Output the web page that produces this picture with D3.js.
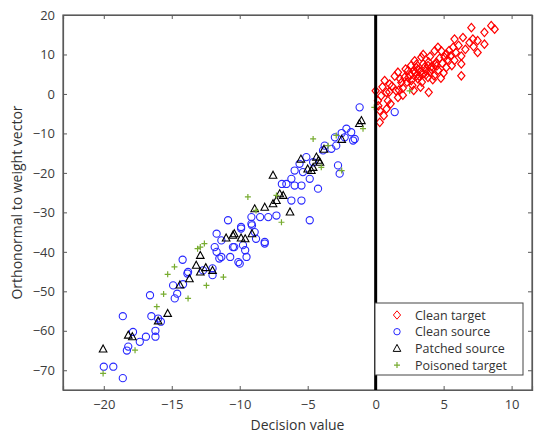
<!DOCTYPE html>
<html><head><meta charset="utf-8">
<script src="https://cdn.jsdelivr.net/npm/d3@7"></script>
<style>body{margin:0;background:#fff;} svg{display:block;font-family:"Open Sans",sans-serif;}</style>
</head><body>
<script>
const xTicks = [-20,-15,-10,-5,0,5,10];
const yTicks = [-70,-60,-50,-40,-30,-20,-10,0,10,20];
const xDomain = [-23, 11.5];
const yDomain = [-75, 20];
const seriesNames = ["Clean target","Clean source","Patched source","Poisoned target"];

const cleanTarget = [
 [0,0.8],[0.17,-1.7],[0.3,-4.2],[0.3,-7.2],[0.66,3.4],[0.79,0.4],[0.9,-1.7],[1.03,2.5],[1.64,5.5],[1.5,0.8],
 [1.64,-0.9],[2.13,4.2],[2.38,5.9],[2.87,8.4],[3.0,6.7],[3.36,9.3],[3.48,5.1],[3.85,7.2],[3.85,4.2],[3.9,0.4],
 [4.34,10.9],[4.46,8.0],[4.58,11.8],[5.07,9.3],[5.2,6.7],[3.11,3.8],[2.62,3.4],[1.89,2.9],
 [7.04,16.8],[6.42,14.3],[7.15,13.9],[7.5,13.5],[8.0,15.6],[8.5,17.3],[8.75,16.4],[8.0,12.6],[7.5,10.5],
 [5.8,13.9],[5.7,11.8],[6.3,7.6],[6.3,4.6],[5.2,10.1],[4.83,10.9],
 [1.2,2.0],[1.8,3.8],[2.0,1.5],[2.3,3.0],[2.5,4.8],[2.7,2.2],[2.9,5.5],[3.1,6.2],[3.2,4.5],[3.4,3.0],
 [3.6,6.8],[3.7,5.8],[3.9,8.1],[4.0,5.5],[4.1,6.9],[4.2,3.6],[4.4,7.5],[4.6,6.0],[4.7,9.0],[4.9,7.8],
 [5.0,5.3],[5.3,8.7],[5.4,11.0],[5.5,9.6],[5.9,10.5],[6.1,12.3],[6.6,11.3],[6.9,13.0],[7.2,12.0],[5.6,7.2],
 [2.2,6.3],[1.4,4.5],[0.5,1.8],[0.4,-0.5],[0.2,-3.0],[0.6,-5.5],[1.1,-2.5],[1.0,0.5],[2.0,-0.3],[2.8,0.9],
 [3.3,1.7],[3.0,7.5],[4.3,4.6],[4.8,4.0],[5.8,8.5],[6.3,9.6],[3.5,10.0],[2.6,7.2],[4.0,9.5],[1.7,1.0],[0.8,-3.8],
 [3.3,5.6],[3.7,4.9],[4.1,6.2],[3.0,4.6],[2.4,4.1],[4.5,7.1],[3.5,7.6],[2.8,6.0]
];
const cleanSource = [
 [-13.85,-45.5],[-14.9,-48.5],[-14.17,-48.2],[-14.6,-50.6],[-14.78,-51.8],[-16.6,-51],[-18.6,-56.3],[-16.5,-56.3],
 [-16.0,-56.9],[-15.8,-57.7],[-16.2,-60],[-16.2,-61.5],[-16.9,-61.5],[-17.35,-62.8],[-17.85,-60.3],[-18.3,-65],
 [-20,-69.1],[-19.3,-69.1],[-18.6,-72],
 [-10.86,-32.0],[-11.7,-35.4],[-11.35,-37.1],[-11.84,-38.8],[-11.7,-40.0],[-11.35,-41.3],[-10.7,-41.3],[-10.1,-42.6],
 [-9.5,-41.3],[-10.5,-38.8],[-9.76,-38.3],[-9.14,-32.9],[-8.9,-35],[-8.8,-36.7],[-8.16,-37.5],[-9.14,-31.2],
 [-8.5,-31.2],[-7.9,-31.2],[-7.3,-30.8],[-9.9,-33.7],[-14.2,-42],[-12.0,-44.2],[-12.0,-45.9],[-12.7,-44.7],
 [-13.8,-45.1],[-6.9,-22.8],
 [-1.18,-3.4],[-2.15,-8.8],[-1.8,-9.7],[-1.54,-11.4],[-2.28,-11.0],[-2.5,-9.9],[-2.9,-13.1],[-3.26,-13.9],
 [-3.75,-13.1],[-3.87,-14.3],[-2.77,-18.1],[-2.65,-20.2],[-4.6,-17.3],[-5.1,-16.0],[-5.6,-17.7],[-5.96,-19.4],
 [-5.35,-19.8],[-4.85,-21.5],[-4.24,-24.0],[-6.2,-21.5],[-6.57,-22.8],[-5.96,-23.2],[-5.46,-23.2],[-6.2,-27],
 [-5.46,-27],
 [1.4,-4.6],[-3.0,-11],[-4.85,-32.0],[-8.16,-37.9],[-1.66,-11.8],[-9.9,-34.1],[-9.1,-33.3],[-10.4,-38.8],
 [-9.6,-39.6],[-10,-43],[-11.5,-41.7],[-18.2,-64]
];
const patchedSource = [
 [-20.05,-64.6],[-15.3,-55.6],[-18.2,-61.1],[-14.4,-48.4],
 [-10.4,-35.4],[-9.6,-36.7],[-13.2,-43.4],[-13.7,-46.8],[-8.16,-28.7],[-7.55,-27.8],[-7.06,-25.3],
 [-1.05,-6.75],[-4.36,-16.0],[-4.1,-17.3],[-4.6,-18.6],[-4.73,-19.4],[-7.55,-20.6],[-6.8,-25.7],
 [-6.3,-29.9],[-8.9,-29.1],[-7.3,-27.0],[-10.5,-35.8],[-9.9,-36.5],
 [-12.9,-40.9],[-12.9,-45.1],[-12.0,-44.7],[-9.1,-35.4],[-17.9,-61.5],
 [-1.2,-7.5],[-3.8,-14],[-5.5,-16.5],[-2.5,-11.5],[-16,-57.5],[-12.5,-44],[-11,-36.5],[-5,-19],[-4.2,-16.8]
];
const poisonedTarget = [
 [-20.05,-70.8],[-17.7,-64.9],[-16.1,-53.9],[-15.6,-50.7],[-13.8,-51.8],[-15.3,-45.7],
 [-9.4,-26.1],[-12.6,-37.9],[-12.45,-48.5],[-11.2,-46.4],[-8.8,-29.5],
 [-0.93,-8.8],[-3.5,-13.1],[-4.6,-11.4],[-4.0,-18.6],[-2.9,-10.5],[-7.3,-25.7],
 [-6.93,-32.5],[-2.5,-19.4],[-12.9,-38.8],[-13.1,-39.2],[-14.8,-43.8],[2.5,0.8],[-0.1,-3.4]
];

const W = 535, H = 433;
const M = {left:63, right:532, top:15, bottom:390};
const svg = d3.select("body").append("svg").attr("width",W).attr("height",H);
const x = d3.scaleLinear().domain(xDomain).range([M.left, M.right]);
const y = d3.scaleLinear().domain(yDomain).range([M.bottom, M.top]);

const axisColor = "#5a5a5a";
const tickLen = 4;
const g = svg.append("g");
g.append("rect").attr("x",M.left).attr("y",M.top).attr("width",M.right-M.left).attr("height",M.bottom-M.top)
 .attr("fill","#fff").attr("stroke",axisColor).attr("stroke-width",1.2);

const xb = svg.append("g").attr("transform",`translate(0,${M.bottom})`)
 .call(d3.axisBottom(x).tickValues(xTicks).tickSize(-tickLen).tickPadding(10).tickFormat(d3.format("d")));
const xt = svg.append("g").attr("transform",`translate(0,${M.top})`)
 .call(d3.axisTop(x).tickValues(xTicks).tickSize(-tickLen).tickFormat(""));
const yl = svg.append("g").attr("transform",`translate(${M.left},0)`)
 .call(d3.axisLeft(y).tickValues(yTicks).tickSize(-tickLen).tickPadding(8).tickFormat(d3.format("d")));
const yr = svg.append("g").attr("transform",`translate(${M.right},0)`)
 .call(d3.axisRight(y).tickValues(yTicks).tickSize(-tickLen).tickFormat(""));
[xb,xt,yl,yr].forEach(a=>{
  a.select(".domain").attr("stroke",axisColor).attr("stroke-width",1.2);
  a.selectAll(".tick line").attr("stroke",axisColor);
  a.selectAll("text").attr("fill","#3c3c3c").attr("font-size",13).attr("font-family","Open Sans, sans-serif");
});

const diamond = "M0,-4.2L3.6,0L0,4.2L-3.6,0Z";
const tri = "M0,-4L3.8,3L-3.8,3Z";
const plus = "M-3,0H3M0,-3V3";

const plot = svg.append("g");
plot.selectAll(".ct").data(cleanTarget).join("path").attr("class","ct")
 .attr("d",diamond).attr("transform",d=>`translate(${x(d[0])},${y(d[1])})`)
 .attr("fill","none").attr("stroke","#ff0000").attr("stroke-width",1.2);
plot.selectAll(".cs").data(cleanSource).join("circle").attr("class","cs")
 .attr("cx",d=>x(d[0])).attr("cy",d=>y(d[1])).attr("r",3.6)
 .attr("fill","none").attr("stroke","#2828ff").attr("stroke-width",1.1);
plot.selectAll(".ps").data(patchedSource).join("path").attr("class","ps")
 .attr("d",tri).attr("transform",d=>`translate(${x(d[0])},${y(d[1])})`)
 .attr("fill","none").attr("stroke","#000").attr("stroke-width",1.1);
plot.selectAll(".pt").data(poisonedTarget).join("path").attr("class","pt")
 .attr("d",plus).attr("transform",d=>`translate(${x(d[0])},${y(d[1])})`)
 .attr("fill","none").attr("stroke","#77ac30").attr("stroke-width",1.2);

svg.append("line").attr("x1",x(0)).attr("x2",x(0)).attr("y1",M.top).attr("y2",M.bottom)
 .attr("stroke","#000").attr("stroke-width",3);

svg.append("text").attr("x",(M.left+M.right)/2).attr("y",430).attr("text-anchor","middle")
 .attr("font-size",14).attr("fill","#333").text("Decision value");
svg.append("text").attr("transform",`translate(22,${(M.top+M.bottom)/2}) rotate(-90)`)
 .attr("text-anchor","middle").attr("font-size",14).attr("fill","#333").text("Orthonormal to weight vector");

const lg = svg.append("g");
lg.append("rect").attr("x",375).attr("y",303).attr("width",148).attr("height",72)
 .attr("fill","#fff").attr("stroke","#444").attr("stroke-width",1);
const shapes = [
 {t:"path",d:diamond,c:"#ff0000",w:1},
 {t:"circle",c:"#2828ff",w:1},
 {t:"path",d:tri,c:"#000",w:1},
 {t:"path",d:plus,c:"#77ac30",w:1.2}
];
seriesNames.forEach((n,i)=>{
  const yy = 315 + i*16.7;
  const s = shapes[i];
  if (s.t==="circle") lg.append("circle").attr("cx",397).attr("cy",yy).attr("r",3.2).attr("fill","none").attr("stroke",s.c).attr("stroke-width",s.w);
  else lg.append("path").attr("d",s.d).attr("transform",`translate(397,${yy})`).attr("fill","none").attr("stroke",s.c).attr("stroke-width",s.w);
  lg.append("text").attr("x",415).attr("y",yy+4.5).attr("font-size",12.5).attr("fill","#333").text(n);
});
</script>
</body></html>
